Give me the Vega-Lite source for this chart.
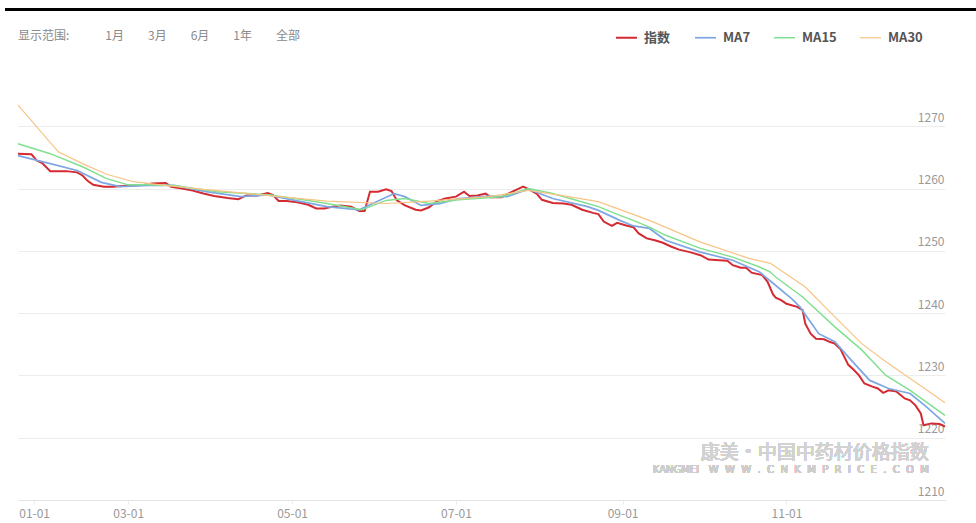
{
  "$schema": "https://vega.github.io/schema/vega-lite/v6.json",
  "autosize": {"type": "none"},
  "width": 927,
  "height": 436,
  "padding": {"left": 18, "top": 64, "right": 31, "bottom": 23},
  "background": "#ffffff",
  "config": {
    "view": {"stroke": null},
    "font": "Noto Sans CJK SC"
  },
  "title": {
    "text": "显示范围:　　　1月　　3月　　6月　　1年　　全部",
    "anchor": "start",
    "frame": "group",
    "orient": "top",
    "offset": -34,
    "fontSize": 12,
    "fontWeight": "normal",
    "color": "#8a8a8a",
    "font": "Noto Sans CJK SC"
  },
  "data": {
    "values": [
      {"d": "2024-01-20", "s": "指数", "v": 1265.6},
      {"d": "2024-01-25", "s": "指数", "v": 1265.5},
      {"d": "2024-01-27", "s": "指数", "v": 1264.5},
      {"d": "2024-01-29", "s": "指数", "v": 1264.1},
      {"d": "2024-02-01", "s": "指数", "v": 1262.8},
      {"d": "2024-02-04", "s": "指数", "v": 1262.8},
      {"d": "2024-02-07", "s": "指数", "v": 1262.8},
      {"d": "2024-02-11", "s": "指数", "v": 1262.6},
      {"d": "2024-02-13", "s": "指数", "v": 1262.1},
      {"d": "2024-02-15", "s": "指数", "v": 1261.2},
      {"d": "2024-02-17", "s": "指数", "v": 1260.6},
      {"d": "2024-02-21", "s": "指数", "v": 1260.3},
      {"d": "2024-02-24", "s": "指数", "v": 1260.3},
      {"d": "2024-02-28", "s": "指数", "v": 1260.4},
      {"d": "2024-03-03", "s": "指数", "v": 1260.5},
      {"d": "2024-03-07", "s": "指数", "v": 1260.6},
      {"d": "2024-03-10", "s": "指数", "v": 1260.8},
      {"d": "2024-03-15", "s": "指数", "v": 1260.9},
      {"d": "2024-03-17", "s": "指数", "v": 1260.3},
      {"d": "2024-03-21", "s": "指数", "v": 1260.0},
      {"d": "2024-03-25", "s": "指数", "v": 1259.7},
      {"d": "2024-03-29", "s": "指数", "v": 1259.2},
      {"d": "2024-04-02", "s": "指数", "v": 1258.8},
      {"d": "2024-04-07", "s": "指数", "v": 1258.5},
      {"d": "2024-04-11", "s": "指数", "v": 1258.3},
      {"d": "2024-04-14", "s": "指数", "v": 1258.9},
      {"d": "2024-04-18", "s": "指数", "v": 1258.9},
      {"d": "2024-04-22", "s": "指数", "v": 1259.3},
      {"d": "2024-04-24", "s": "指数", "v": 1258.9},
      {"d": "2024-04-26", "s": "指数", "v": 1258.0},
      {"d": "2024-04-29", "s": "指数", "v": 1258.0},
      {"d": "2024-05-03", "s": "指数", "v": 1257.8},
      {"d": "2024-05-07", "s": "指数", "v": 1257.4},
      {"d": "2024-05-10", "s": "指数", "v": 1256.8},
      {"d": "2024-05-13", "s": "指数", "v": 1256.8},
      {"d": "2024-05-15", "s": "指数", "v": 1257.0},
      {"d": "2024-05-19", "s": "指数", "v": 1257.3},
      {"d": "2024-05-23", "s": "指数", "v": 1257.1},
      {"d": "2024-05-26", "s": "指数", "v": 1256.4},
      {"d": "2024-05-28", "s": "指数", "v": 1256.4},
      {"d": "2024-05-30", "s": "指数", "v": 1259.5},
      {"d": "2024-06-02", "s": "指数", "v": 1259.5},
      {"d": "2024-06-05", "s": "指数", "v": 1259.9},
      {"d": "2024-06-07", "s": "指数", "v": 1259.6},
      {"d": "2024-06-09", "s": "指数", "v": 1258.1},
      {"d": "2024-06-12", "s": "指数", "v": 1257.3},
      {"d": "2024-06-16", "s": "指数", "v": 1256.6},
      {"d": "2024-06-18", "s": "指数", "v": 1256.5},
      {"d": "2024-06-21", "s": "指数", "v": 1257.0},
      {"d": "2024-06-24", "s": "指数", "v": 1258.0},
      {"d": "2024-06-27", "s": "指数", "v": 1258.4},
      {"d": "2024-07-01", "s": "指数", "v": 1258.7},
      {"d": "2024-07-04", "s": "指数", "v": 1259.5},
      {"d": "2024-07-06", "s": "指数", "v": 1258.8},
      {"d": "2024-07-09", "s": "指数", "v": 1258.9},
      {"d": "2024-07-12", "s": "指数", "v": 1259.2},
      {"d": "2024-07-14", "s": "指数", "v": 1258.6},
      {"d": "2024-07-18", "s": "指数", "v": 1258.6},
      {"d": "2024-07-21", "s": "指数", "v": 1259.3},
      {"d": "2024-07-24", "s": "指数", "v": 1259.9},
      {"d": "2024-07-26", "s": "指数", "v": 1260.3},
      {"d": "2024-07-28", "s": "指数", "v": 1259.9},
      {"d": "2024-07-31", "s": "指数", "v": 1259.2},
      {"d": "2024-08-02", "s": "指数", "v": 1258.2},
      {"d": "2024-08-06", "s": "指数", "v": 1257.7},
      {"d": "2024-08-10", "s": "指数", "v": 1257.6},
      {"d": "2024-08-13", "s": "指数", "v": 1257.4},
      {"d": "2024-08-17", "s": "指数", "v": 1256.6},
      {"d": "2024-08-21", "s": "指数", "v": 1256.1},
      {"d": "2024-08-23", "s": "指数", "v": 1255.9},
      {"d": "2024-08-25", "s": "指数", "v": 1254.7},
      {"d": "2024-08-28", "s": "指数", "v": 1254.0},
      {"d": "2024-08-30", "s": "指数", "v": 1254.5},
      {"d": "2024-09-02", "s": "指数", "v": 1254.1},
      {"d": "2024-09-05", "s": "指数", "v": 1253.8},
      {"d": "2024-09-07", "s": "指数", "v": 1252.8},
      {"d": "2024-09-10", "s": "指数", "v": 1252.0},
      {"d": "2024-09-13", "s": "指数", "v": 1251.7},
      {"d": "2024-09-16", "s": "指数", "v": 1251.3},
      {"d": "2024-09-19", "s": "指数", "v": 1250.7},
      {"d": "2024-09-22", "s": "指数", "v": 1250.2},
      {"d": "2024-09-26", "s": "指数", "v": 1249.8},
      {"d": "2024-09-30", "s": "指数", "v": 1249.3},
      {"d": "2024-10-03", "s": "指数", "v": 1248.6},
      {"d": "2024-10-07", "s": "指数", "v": 1248.5},
      {"d": "2024-10-10", "s": "指数", "v": 1248.4},
      {"d": "2024-10-12", "s": "指数", "v": 1247.7},
      {"d": "2024-10-15", "s": "指数", "v": 1247.3},
      {"d": "2024-10-17", "s": "指数", "v": 1247.3},
      {"d": "2024-10-19", "s": "指数", "v": 1246.5},
      {"d": "2024-10-23", "s": "指数", "v": 1246.1},
      {"d": "2024-10-25", "s": "指数", "v": 1245.0},
      {"d": "2024-10-27", "s": "指数", "v": 1243.0},
      {"d": "2024-10-28", "s": "指数", "v": 1242.5},
      {"d": "2024-10-30", "s": "指数", "v": 1242.1},
      {"d": "2024-11-01", "s": "指数", "v": 1241.5},
      {"d": "2024-11-05", "s": "指数", "v": 1241.0},
      {"d": "2024-11-07", "s": "指数", "v": 1240.5},
      {"d": "2024-11-08", "s": "指数", "v": 1238.3},
      {"d": "2024-11-10", "s": "指数", "v": 1236.7},
      {"d": "2024-11-12", "s": "指数", "v": 1235.9},
      {"d": "2024-11-15", "s": "指数", "v": 1235.8},
      {"d": "2024-11-17", "s": "指数", "v": 1235.4},
      {"d": "2024-11-19", "s": "指数", "v": 1235.1},
      {"d": "2024-11-21", "s": "指数", "v": 1234.3},
      {"d": "2024-11-24", "s": "指数", "v": 1231.7},
      {"d": "2024-11-26", "s": "指数", "v": 1230.9},
      {"d": "2024-11-28", "s": "指数", "v": 1230.0},
      {"d": "2024-11-30", "s": "指数", "v": 1228.7},
      {"d": "2024-12-03", "s": "指数", "v": 1228.2},
      {"d": "2024-12-05", "s": "指数", "v": 1227.9},
      {"d": "2024-12-07", "s": "指数", "v": 1227.2},
      {"d": "2024-12-09", "s": "指数", "v": 1227.6},
      {"d": "2024-12-12", "s": "指数", "v": 1227.4},
      {"d": "2024-12-15", "s": "指数", "v": 1226.3},
      {"d": "2024-12-17", "s": "指数", "v": 1226.0},
      {"d": "2024-12-19", "s": "指数", "v": 1225.2},
      {"d": "2024-12-21", "s": "指数", "v": 1223.9},
      {"d": "2024-12-22", "s": "指数", "v": 1222.0},
      {"d": "2024-12-25", "s": "指数", "v": 1222.3},
      {"d": "2024-12-28", "s": "指数", "v": 1222.2},
      {"d": "2024-12-30", "s": "指数", "v": 1221.8},

      {"d": "2024-01-20", "s": "MA7", "v": 1265.3},
      {"d": "2024-02-01", "s": "MA7", "v": 1264.0},
      {"d": "2024-02-11", "s": "MA7", "v": 1262.9},
      {"d": "2024-02-20", "s": "MA7", "v": 1261.0},
      {"d": "2024-02-27", "s": "MA7", "v": 1260.3},
      {"d": "2024-03-09", "s": "MA7", "v": 1260.5},
      {"d": "2024-03-18", "s": "MA7", "v": 1260.5},
      {"d": "2024-03-30", "s": "MA7", "v": 1259.5},
      {"d": "2024-04-12", "s": "MA7", "v": 1258.7},
      {"d": "2024-04-22", "s": "MA7", "v": 1259.0},
      {"d": "2024-05-02", "s": "MA7", "v": 1258.1},
      {"d": "2024-05-14", "s": "MA7", "v": 1257.1},
      {"d": "2024-05-26", "s": "MA7", "v": 1256.6},
      {"d": "2024-05-31", "s": "MA7", "v": 1257.6},
      {"d": "2024-06-08", "s": "MA7", "v": 1259.2},
      {"d": "2024-06-12", "s": "MA7", "v": 1258.7},
      {"d": "2024-06-18", "s": "MA7", "v": 1257.3},
      {"d": "2024-06-25", "s": "MA7", "v": 1257.6},
      {"d": "2024-07-02", "s": "MA7", "v": 1258.4},
      {"d": "2024-07-13", "s": "MA7", "v": 1258.8},
      {"d": "2024-07-20", "s": "MA7", "v": 1258.7},
      {"d": "2024-07-28", "s": "MA7", "v": 1259.9},
      {"d": "2024-08-06", "s": "MA7", "v": 1258.4},
      {"d": "2024-08-19", "s": "MA7", "v": 1257.1},
      {"d": "2024-08-23", "s": "MA7", "v": 1256.5},
      {"d": "2024-08-31", "s": "MA7", "v": 1254.9},
      {"d": "2024-09-05", "s": "MA7", "v": 1254.0},
      {"d": "2024-09-11", "s": "MA7", "v": 1253.6},
      {"d": "2024-09-17", "s": "MA7", "v": 1251.7},
      {"d": "2024-09-30", "s": "MA7", "v": 1249.8},
      {"d": "2024-10-12", "s": "MA7", "v": 1248.5},
      {"d": "2024-10-22", "s": "MA7", "v": 1246.6},
      {"d": "2024-10-27", "s": "MA7", "v": 1244.8},
      {"d": "2024-11-03", "s": "MA7", "v": 1242.3},
      {"d": "2024-11-06", "s": "MA7", "v": 1241.0},
      {"d": "2024-11-13", "s": "MA7", "v": 1236.7},
      {"d": "2024-11-19", "s": "MA7", "v": 1235.4},
      {"d": "2024-11-25", "s": "MA7", "v": 1232.5},
      {"d": "2024-12-02", "s": "MA7", "v": 1229.2},
      {"d": "2024-12-09", "s": "MA7", "v": 1227.9},
      {"d": "2024-12-17", "s": "MA7", "v": 1227.1},
      {"d": "2024-12-23", "s": "MA7", "v": 1225.0},
      {"d": "2024-12-30", "s": "MA7", "v": 1222.3},

      {"d": "2024-01-20", "s": "MA15", "v": 1267.2},
      {"d": "2024-02-01", "s": "MA15", "v": 1265.6},
      {"d": "2024-02-13", "s": "MA15", "v": 1263.5},
      {"d": "2024-02-22", "s": "MA15", "v": 1261.6},
      {"d": "2024-03-01", "s": "MA15", "v": 1260.6},
      {"d": "2024-03-09", "s": "MA15", "v": 1260.6},
      {"d": "2024-03-18", "s": "MA15", "v": 1260.5},
      {"d": "2024-04-03", "s": "MA15", "v": 1259.5},
      {"d": "2024-04-22", "s": "MA15", "v": 1259.0},
      {"d": "2024-05-04", "s": "MA15", "v": 1258.3},
      {"d": "2024-05-14", "s": "MA15", "v": 1257.6},
      {"d": "2024-05-27", "s": "MA15", "v": 1256.6},
      {"d": "2024-06-05", "s": "MA15", "v": 1258.1},
      {"d": "2024-06-12", "s": "MA15", "v": 1258.4},
      {"d": "2024-06-21", "s": "MA15", "v": 1257.6},
      {"d": "2024-07-02", "s": "MA15", "v": 1258.2},
      {"d": "2024-07-18", "s": "MA15", "v": 1258.7},
      {"d": "2024-07-28", "s": "MA15", "v": 1260.0},
      {"d": "2024-08-06", "s": "MA15", "v": 1259.2},
      {"d": "2024-08-19", "s": "MA15", "v": 1257.6},
      {"d": "2024-08-23", "s": "MA15", "v": 1257.1},
      {"d": "2024-08-31", "s": "MA15", "v": 1255.7},
      {"d": "2024-09-05", "s": "MA15", "v": 1254.9},
      {"d": "2024-09-11", "s": "MA15", "v": 1253.8},
      {"d": "2024-09-17", "s": "MA15", "v": 1252.5},
      {"d": "2024-09-30", "s": "MA15", "v": 1250.4},
      {"d": "2024-10-12", "s": "MA15", "v": 1249.0},
      {"d": "2024-10-22", "s": "MA15", "v": 1247.4},
      {"d": "2024-10-26", "s": "MA15", "v": 1246.6},
      {"d": "2024-10-28", "s": "MA15", "v": 1245.8},
      {"d": "2024-11-07", "s": "MA15", "v": 1242.6},
      {"d": "2024-11-19", "s": "MA15", "v": 1237.8},
      {"d": "2024-11-29", "s": "MA15", "v": 1234.1},
      {"d": "2024-12-08", "s": "MA15", "v": 1230.0},
      {"d": "2024-12-17", "s": "MA15", "v": 1227.6},
      {"d": "2024-12-30", "s": "MA15", "v": 1223.6},

      {"d": "2024-01-20", "s": "MA30", "v": 1273.4},
      {"d": "2024-02-04", "s": "MA30", "v": 1265.9},
      {"d": "2024-02-13", "s": "MA30", "v": 1264.0},
      {"d": "2024-02-22", "s": "MA30", "v": 1262.3},
      {"d": "2024-03-03", "s": "MA30", "v": 1261.1},
      {"d": "2024-03-13", "s": "MA30", "v": 1260.6},
      {"d": "2024-03-28", "s": "MA30", "v": 1259.9},
      {"d": "2024-04-15", "s": "MA30", "v": 1259.2},
      {"d": "2024-05-04", "s": "MA30", "v": 1258.4},
      {"d": "2024-05-14", "s": "MA30", "v": 1258.0},
      {"d": "2024-06-05", "s": "MA30", "v": 1257.6},
      {"d": "2024-06-21", "s": "MA30", "v": 1258.0},
      {"d": "2024-07-13", "s": "MA30", "v": 1258.7},
      {"d": "2024-07-28", "s": "MA30", "v": 1259.7},
      {"d": "2024-08-09", "s": "MA30", "v": 1258.9},
      {"d": "2024-08-23", "s": "MA30", "v": 1257.9},
      {"d": "2024-09-11", "s": "MA30", "v": 1254.9},
      {"d": "2024-09-30", "s": "MA30", "v": 1251.4},
      {"d": "2024-10-18", "s": "MA30", "v": 1248.8},
      {"d": "2024-10-26", "s": "MA30", "v": 1248.0},
      {"d": "2024-11-08", "s": "MA30", "v": 1244.2},
      {"d": "2024-11-19", "s": "MA30", "v": 1239.4},
      {"d": "2024-11-29", "s": "MA30", "v": 1235.1},
      {"d": "2024-12-08", "s": "MA30", "v": 1232.2},
      {"d": "2024-12-17", "s": "MA30", "v": 1229.5},
      {"d": "2024-12-30", "s": "MA30", "v": 1225.6}
    ]
  },
  "layer": [
    {
      "mark": {"type": "rule", "clip": false, "stroke": "#000000", "strokeWidth": 2.5},
      "encoding": {
        "x": {"datum": {"year": 2024, "month": 1, "date": 15, "hours": 12, "utc": true}, "type": "temporal"},
        "x2": {"datum": {"year": 2025, "month": 1, "date": 12, "utc": true}},
        "y": {"datum": 1288.7, "type": "quantitative"}
      }
    },
    {
      "mark": {"type": "text", "clip": false, "align": "right", "baseline": "middle", "fontSize": 19, "color": "#d2d2d2", "font": "Noto Sans CJK SC"},
      "encoding": {
        "x": {"datum": {"year": 2024, "month": 12, "date": 24, "utc": true}, "type": "temporal"},
        "y": {"datum": 1217.5, "type": "quantitative"},
        "text": {"value": "康美·中国中药材价格指数"}
      }
    },
    {
      "mark": {"type": "text", "clip": false, "align": "right", "baseline": "middle", "fontSize": 10, "color": "#cdcdcd", "font": "DejaVu Sans"},
      "encoding": {
        "x": {"datum": {"year": 2024, "month": 12, "date": 24, "utc": true}, "type": "temporal"},
        "y": {"datum": 1214.8, "type": "quantitative"},
        "text": {"value": "KANGMEI\u00a0\u00a0\u00a0W\u00a0\u00a0W\u00a0\u00a0W\u00a0\u00a0.\u00a0\u00a0C\u00a0\u00a0N\u00a0\u00a0K\u00a0\u00a0M\u00a0\u00a0P\u00a0\u00a0R\u00a0\u00a0I\u00a0\u00a0C\u00a0\u00a0E\u00a0\u00a0.\u00a0\u00a0C\u00a0\u00a0O\u00a0\u00a0M"}
      }
    },
    {
      "mark": {"type": "line", "interpolate": "linear"},
      "encoding": {
        "x": {
          "field": "d",
          "type": "temporal",
          "scale": {"type": "utc", "domain": [{"year": 2024, "month": 1, "date": 20, "utc": true}, {"year": 2024, "month": 12, "date": 30, "utc": true}]},
          "axis": {
            "title": null,
            "values": [
              {"year": 2024, "month": 1, "date": 26, "utc": true},
              {"year": 2024, "month": 3, "date": 1, "utc": true},
              {"year": 2024, "month": 5, "date": 1, "utc": true},
              {"year": 2024, "month": 7, "date": 1, "utc": true},
              {"year": 2024, "month": 9, "date": 1, "utc": true},
              {"year": 2024, "month": 11, "date": 1, "utc": true}
            ],
            "labelExpr": "utcmonth(datum.value) == 0 ? '01-01' : utcFormat(datum.value, '%m-%d')",
            "grid": false,
            "domainColor": "#e3e3e3",
            "tickColor": "#ececec",
            "tickSize": 4,
            "labelPadding": 4,
            "labelColor": "#999999",
            "labelFontSize": 12,
            "labelFont": "Noto Sans CJK SC",
            "labelFlush": false,
            "labelOverlap": false
          }
        },
        "y": {
          "field": "v",
          "type": "quantitative",
          "scale": {"domain": [1210, 1280], "zero": false, "nice": false},
          "axis": {
            "title": null,
            "orient": "right",
            "values": [1210, 1220, 1230, 1240, 1250, 1260, 1270],
            "format": "d",
            "grid": true,
            "gridColor": "#ececec",
            "domain": false,
            "ticks": false,
            "labelAlign": "right",
            "labelBaseline": "bottom",
            "labelOffset": -2,
            "labelPadding": -1,
            "labelColor": "#999999",
            "labelFontSize": 12,
            "labelFont": "Noto Sans CJK SC",
            "labelFlush": false,
            "labelOverlap": false
          }
        },
        "color": {
          "field": "s",
          "type": "nominal",
          "scale": {"domain": ["指数", "MA7", "MA15", "MA30"], "range": ["#d42a32", "#7ea7e3", "#80e08f", "#f6c585"]},
          "legend": {
            "title": null,
            "orient": "none",
            "legendX": 597,
            "legendY": -38,
            "direction": "horizontal",
            "symbolType": "stroke",
            "symbolSize": 440,
            "symbolStrokeWidth": 2,
            "labelFontSize": 13,
            "labelFontWeight": "bold",
            "labelColor": "#555555",
            "labelFont": "Noto Sans CJK SC",
            "labelOffset": 6,
            "columnPadding": 20
          }
        },
        "strokeWidth": {
          "field": "s",
          "type": "nominal",
          "scale": {"domain": ["指数", "MA7", "MA15", "MA30"], "range": [2, 1.2, 1.2, 1.2]},
          "legend": null
        }
      }
    }
  ]
}
